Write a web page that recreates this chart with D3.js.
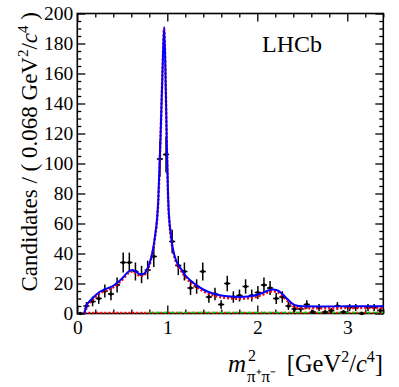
<!DOCTYPE html>
<html>
<head>
<meta charset="utf-8">
<script src="https://cdn.jsdelivr.net/npm/d3@7"></script>
<style>
  html, body { margin: 0; padding: 0; background: #fff; }
  svg { display: block; font-family: "Liberation Serif", "Times New Roman", serif; }
  .tick text { font-family: "Liberation Serif", "Times New Roman", serif; }
</style>
</head>
<body>
<div id="chart"></div>
<script>
// bin centres (GeV^2/c^4), 0.068 wide
const binCenters = [0.034, 0.102, 0.170, 0.238, 0.306, 0.374, 0.442, 0.510, 0.578, 0.646,
  0.714, 0.782, 0.850, 0.918, 0.986, 1.054, 1.122, 1.190, 1.258, 1.326,
  1.394, 1.462, 1.530, 1.598, 1.666, 1.734, 1.802, 1.870, 1.938, 2.006,
  2.074, 2.142, 2.210, 2.278, 2.346, 2.414, 2.482, 2.550, 2.618, 2.686,
  2.754, 2.822, 2.890, 2.958, 3.026, 3.094, 3.162, 3.230, 3.298, 3.366];
const counts = [0, 5, 8, 10, 15, 13, 19, 34, 34, 28,
  26, 29, 38, 103, 106, 48, 32, 28, 17, 18,
  28, 11, 13, 6, 20, 11, 12, 18, 12, 14,
  19, 17, 10, 11, 5, 3, 3, 6, 1, 4,
  1, 2, 5, 1, 4, 4, 0, 4, 4, 2];
const errors = [0, 2.6, 3.2, 3.6, 4.4, 4.1, 5.0, 6.6, 6.6, 6.0,
  5.8, 6.2, 7.0, 11.8, 12.0, 7.9, 6.4, 6.0, 4.7, 4.8,
  6.0, 3.8, 4.1, 2.8, 5.1, 3.8, 4.0, 4.8, 4.0, 4.3,
  5.0, 4.7, 3.6, 3.8, 2.6, 2.0, 2.0, 2.8, 1.2, 2.3,
  1.2, 1.6, 2.6, 1.2, 2.3, 2.3, 0, 2.3, 2.3, 1.6];

// fit curves
const curveX = [0.078, 0.1, 0.15, 0.2, 0.25, 0.3, 0.4, 0.5, 0.57, 0.61,
  0.65, 0.7, 0.74, 0.78, 0.82, 0.86, 0.9, 0.925, 0.947, 0.965,
  0.98, 0.995, 1.01, 1.04, 1.07, 1.1, 1.15, 1.2, 1.3, 1.4,
  1.5, 1.6, 1.7, 1.8, 1.9, 2.0, 2.07, 2.12, 2.17, 2.22,
  2.27, 2.32, 2.37, 2.42, 2.5, 2.7, 3.0, 3.4];
const totalFit = [0, 5, 9, 12, 14.5, 16, 18.5, 23.5, 28, 29,
  28, 26, 26.5, 30, 37, 50, 76, 118, 162, 191,
  160, 112, 76, 52, 41, 35, 30, 25.5, 20, 16,
  13.5, 12, 11.3, 11, 11.3, 12.5, 14, 15.3, 16, 15.5,
  13.5, 10.5, 7.5, 5.5, 4.8, 4.7, 4.8, 4.8];
const signalFit = [0, 4.5, 8, 11, 13.5, 15, 17.5, 22.5, 27, 28,
  27, 25, 25.5, 29, 36, 49, 75, 117, 161, 190,
  159, 111, 75, 51, 40, 33.8, 28.8, 24.3, 18.8, 14.8,
  12.3, 10.8, 10.1, 9.8, 10.1, 11.3, 12.8, 14.1, 14.8, 14.3,
  12.3, 9.3, 6.3, 4.3, 3.6, 3.5, 3.6, 3.6];
const redLowX = [0.078, 3.4];
const redLowY = [0.5, 0.5];
const greenX = [0.8, 3.4];
const greenY = [0.6, 0.6];

const xTicks = [0, 1, 2, 3];
const yTicks = [0, 20, 40, 60, 80, 100, 120, 140, 160, 180, 200];

const W = 399, H = 387;
const mLeft = 77.3, mRight = 383.3, mTop = 13.5, mBottom = 313.5;
const serif = '"Liberation Serif", "Times New Roman", serif';

const svg = d3.select("#chart").append("svg")
  .attr("width", W).attr("height", H);

const x = d3.scaleLinear().domain([0, 3.4]).range([mLeft, mRight]);
const y = d3.scaleLinear().domain([0, 200]).range([mBottom, mTop]);

const xMinor = d3.range(0, 3.41, 0.2).filter(v => Math.abs(v - Math.round(v)) > 1e-6);
const yMinor = d3.range(0, 201, 5).filter(v => v % 20 !== 0);

function styleAxis(g) {
  g.attr("font-family", serif);
  g.select(".domain").remove();
  g.selectAll(".tick line").attr("stroke", "#000").attr("stroke-width", 1.3);
  g.selectAll(".tick text").attr("fill", "#000").attr("font-size", 19.5);
}

// bottom
svg.append("g").attr("transform", `translate(0,${mBottom})`)
  .call(d3.axisBottom(x).tickValues(xTicks).tickSize(-8).tickPadding(7).tickFormat(d3.format("d")))
  .call(styleAxis);
svg.append("g").attr("transform", `translate(0,${mBottom})`)
  .call(d3.axisBottom(x).tickValues(xMinor).tickSize(-4).tickFormat(""))
  .call(styleAxis);
// top
svg.append("g").attr("transform", `translate(0,${mTop})`)
  .call(d3.axisTop(x).tickValues(xTicks).tickSize(-8).tickFormat(""))
  .call(styleAxis);
svg.append("g").attr("transform", `translate(0,${mTop})`)
  .call(d3.axisTop(x).tickValues(xMinor).tickSize(-4).tickFormat(""))
  .call(styleAxis);
// left
svg.append("g").attr("transform", `translate(${mLeft},0)`)
  .call(d3.axisLeft(y).tickValues(yTicks).tickSize(-8).tickPadding(4).tickFormat(d3.format("d")))
  .call(styleAxis);
svg.append("g").attr("transform", `translate(${mLeft},0)`)
  .call(d3.axisLeft(y).tickValues(yMinor).tickSize(-4).tickFormat(""))
  .call(styleAxis);
// right
svg.append("g").attr("transform", `translate(${mRight},0)`)
  .call(d3.axisRight(y).tickValues(yTicks).tickSize(-8).tickFormat(""))
  .call(styleAxis);
svg.append("g").attr("transform", `translate(${mRight},0)`)
  .call(d3.axisRight(y).tickValues(yMinor).tickSize(-4).tickFormat(""))
  .call(styleAxis);

// frame
svg.append("rect")
  .attr("x", mLeft).attr("y", mTop)
  .attr("width", mRight - mLeft).attr("height", mBottom - mTop)
  .attr("fill", "none").attr("stroke", "#000").attr("stroke-width", 1.6);

const plot = svg.append("g");

// low components
const lowLine = d3.line().x(d => x(d[0])).y(d => y(d[1]));
plot.append("path")
  .attr("d", lowLine(d3.zip(redLowX, redLowY)))
  .attr("fill", "none").attr("stroke", "#ff0000").attr("stroke-width", 2)
  .attr("stroke-dasharray", "2,2");
plot.append("path")
  .attr("d", lowLine(d3.zip(greenX, greenY)))
  .attr("fill", "none").attr("stroke", "#00cc00").attr("stroke-width", 1.5)
  .attr("stroke-dasharray", "4,3");

// data points
const pts = plot.selectAll("g.pt")
  .data(binCenters.map((c, i) => ({ c, n: counts[i], e: errors[i] })))
  .enter().append("g").attr("class", "pt");
pts.filter(d => d.e > 0).append("line")
  .attr("x1", d => x(d.c)).attr("x2", d => x(d.c))
  .attr("y1", d => y(d.n - d.e)).attr("y2", d => y(d.n + d.e))
  .attr("stroke", "#000").attr("stroke-width", 1.5);
pts.append("line")
  .attr("x1", d => x(d.c - 0.034)).attr("x2", d => x(d.c + 0.034))
  .attr("y1", d => y(d.n)).attr("y2", d => y(d.n))
  .attr("stroke", "#000").attr("stroke-width", 1.5);
pts.append("circle")
  .attr("cx", d => x(d.c)).attr("cy", d => y(d.n)).attr("r", 1.8)
  .attr("fill", "#000");

// fit curves
const fitLine = d3.line().x(d => x(d[0])).y(d => y(d[1])).curve(d3.curveMonotoneX);
plot.append("path")
  .attr("d", fitLine(d3.zip(curveX, signalFit)))
  .attr("fill", "none").attr("stroke", "#ff0000").attr("stroke-width", 2.5)
  .attr("stroke-dasharray", "2,2");
plot.append("path")
  .attr("d", fitLine(d3.zip(curveX, totalFit)))
  .attr("fill", "none").attr("stroke", "#0000ff").attr("stroke-width", 2);

// LHCb label
svg.append("text")
  .attr("x", 262).attr("y", 52)
  .attr("font-size", 24)
  .text("LHCb");

// y title
const yt = svg.append("text")
  .attr("transform", `translate(37,12) rotate(-90)`)
  .attr("text-anchor", "end")
  .attr("font-size", 23);
yt.append("tspan").text("Candidates / ( 0.068 GeV");
yt.append("tspan").attr("font-size", 15).attr("dy", -9).text("2");
yt.append("tspan").attr("dy", 9).text("/");
yt.append("tspan").attr("font-style", "italic").text("c");
yt.append("tspan").attr("font-size", 15).attr("dy", -9).text("4");
yt.append("tspan").attr("dy", 9).text(" )");

// x title
svg.append("text").attr("x", 228).attr("y", 372)
  .attr("font-size", 25).attr("font-style", "italic").text("m");
svg.append("text").attr("x", 248).attr("y", 361)
  .attr("font-size", 16).text("2");
svg.append("text").attr("x", 247).attr("y", 382)
  .attr("font-size", 17).text("π⁺π⁻");
const xt = svg.append("text").attr("x", 383).attr("y", 372)
  .attr("text-anchor", "end").attr("font-size", 24.5);
xt.append("tspan").text("[GeV");
xt.append("tspan").attr("font-size", 16).attr("dy", -10).text("2");
xt.append("tspan").attr("dy", 10).text("/");
xt.append("tspan").attr("font-style", "italic").text("c");
xt.append("tspan").attr("font-size", 16).attr("dy", -10).text("4");
xt.append("tspan").attr("dy", 10).text("]");
</script>
</body>
</html>
